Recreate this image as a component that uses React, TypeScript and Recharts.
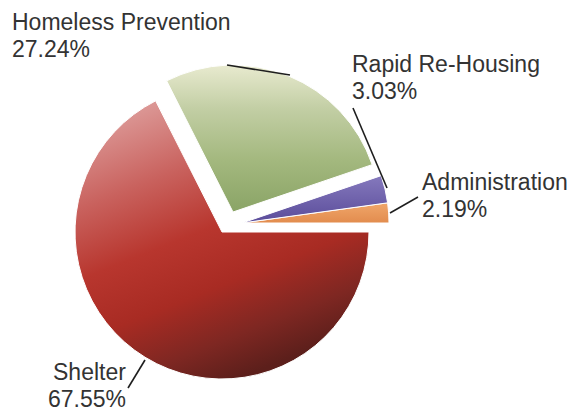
import React from "react";
import { PieChart, Pie, Cell } from "recharts";

const categories = ["Administration", "Rapid Re-Housing", "Homeless Prevention", "Shelter"];
const shares = [2.19, 3.03, 27.24, 67.55];
const percentLabels = ["2.19%", "3.03%", "27.24%", "67.55%"];

const data = categories.map((name, i) => ({ name, value: shares[i], pct: percentLabels[i] }));

const fills: Record<string, string> = {
  Administration: "url(#gOrange)",
  "Rapid Re-Housing": "url(#gPurple)",
  "Homeless Prevention": "url(#gGreen)",
  Shelter: "url(#gRed)",
};

// label layout (page coordinates)
const labelLayout: Record<string, { x: number; y: number; x2?: number; line: [number, number, number, number] }> = {
  "Homeless Prevention": { x: 12, y: 30, line: [227, 65, 290, 75] },
  "Rapid Re-Housing": { x: 352, y: 72, line: [353, 108, 387, 188] },
  Administration: { x: 422, y: 190, line: [390, 213, 418, 197] },
  Shelter: { x: 53, y: 380, x2: 48, line: [128, 388, 145, 360] },
};

const makeLabel = (visible: string[]) => (props: any) => {
  const name = props.name ?? props.payload?.name;
  if (!visible.includes(name)) return null;
  const l = labelLayout[name];
  const pct = props.payload?.pct ?? "";
  return (
    <g key={name}>
      <line x1={l.line[0]} y1={l.line[1]} x2={l.line[2]} y2={l.line[3]} stroke="#1e1e1e" strokeWidth={1.6} />
      <text x={l.x} y={l.y} fill="#333333" fontSize={23} fontFamily="Liberation Sans, Arial, sans-serif">
        {name}
      </text>
      <text x={l.x2 ?? l.x} y={l.y + 27} fill="#333333" fontSize={23} fontFamily="Liberation Sans, Arial, sans-serif">
        {pct}
      </text>
    </g>
  );
};

const groups = [
  { names: ["Shelter"], cx: 222, cy: 232 },
  { names: ["Homeless Prevention"], cx: 233, cy: 212 },
  { names: ["Rapid Re-Housing", "Administration"], cx: 242, cy: 223 },
];

export default function App() {
  return (
    <div style={{ position: "absolute", left: 0, top: 0, width: 574, height: 411, background: "#fff" }}>
      <PieChart width={574} height={411} margin={{ top: 0, right: 0, bottom: 0, left: 0 }}>
        <defs>
          <linearGradient id="gRed" x1="0.15" y1="0.05" x2="0.55" y2="1">
            <stop offset="0" stopColor="#dc9896" />
            <stop offset="0.25" stopColor="#c9625e" />
            <stop offset="0.48" stopColor="#b8362e" />
            <stop offset="0.68" stopColor="#a82b23" />
            <stop offset="0.86" stopColor="#7e2722" />
            <stop offset="1" stopColor="#5c1f1b" />
          </linearGradient>
          <linearGradient id="gGreen" x1="0" y1="0" x2="0" y2="1">
            <stop offset="0" stopColor="#e8eacf" />
            <stop offset="0.3" stopColor="#c2cea4" />
            <stop offset="0.65" stopColor="#a3b87e" />
            <stop offset="1" stopColor="#8aa466" />
          </linearGradient>
          <linearGradient id="gPurple" x1="0" y1="0" x2="0" y2="1">
            <stop offset="0" stopColor="#8579bd" />
            <stop offset="1" stopColor="#5a4c9a" />
          </linearGradient>
          <linearGradient id="gOrange" x1="0" y1="0" x2="0" y2="1">
            <stop offset="0" stopColor="#f0a66a" />
            <stop offset="1" stopColor="#e28c4e" />
          </linearGradient>
        </defs>
        {groups.map((g, gi) => (
          <Pie
            key={gi}
            data={data}
            dataKey="value"
            nameKey="name"
            cx={g.cx}
            cy={g.cy}
            innerRadius={0}
            outerRadius={147}
            startAngle={0}
            endAngle={360}
            isAnimationActive={false}
            labelLine={false}
            label={makeLabel(g.names)}
          >
            {data.map((d) => {
              const show = g.names.includes(d.name);
              return (
                <Cell
                  key={d.name}
                  fill={show ? fills[d.name] : "none"}
                  stroke={show ? "#ffffff" : "none"}
                  strokeWidth={show ? 1 : 0}
                />
              );
            })}
          </Pie>
        ))}
      </PieChart>
    </div>
  );
}
